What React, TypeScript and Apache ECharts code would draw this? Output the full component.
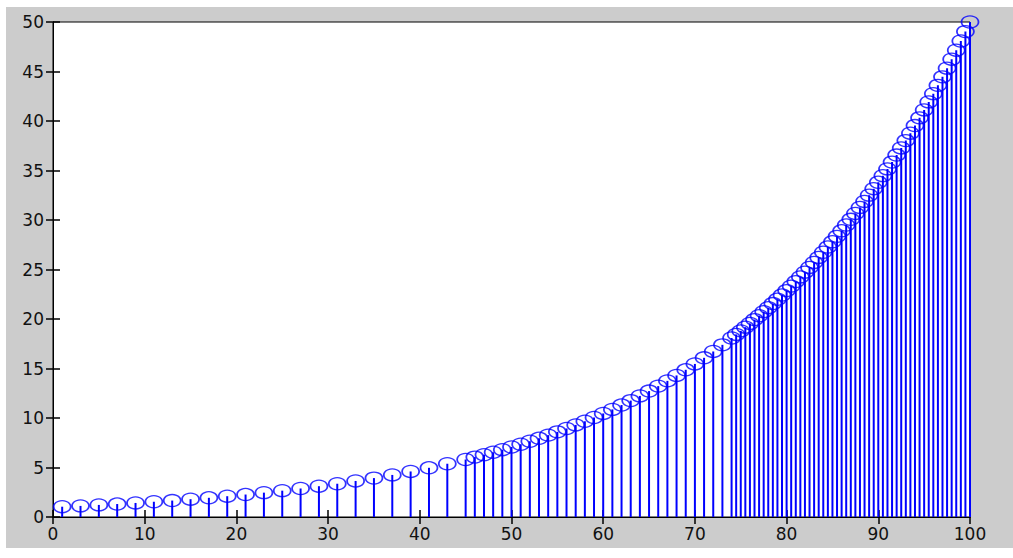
import React, { useEffect, useRef } from "react";
import * as echarts from "echarts";

const xValues: number[] = [
  1, 3, 5, 7, 9, 11, 13, 15, 17, 19, 21, 23, 25, 27, 29, 31, 33, 35, 37, 39, 41, 43,
  45, 46, 47, 48, 49, 50, 51, 52, 53, 54, 55, 56, 57, 58, 59, 60, 61, 62, 63, 64, 65, 66, 67, 68, 69, 70, 71, 72, 73,
  74, 74.5, 75, 75.5, 76, 76.5, 77, 77.5, 78, 78.5, 79, 79.5, 80, 80.5, 81, 81.5, 82, 82.5, 83, 83.5, 84, 84.5,
  85, 85.5, 86, 86.5, 87, 87.5, 88, 88.5, 89, 89.5, 90, 90.5, 91, 91.5, 92, 92.5, 93, 93.5, 94, 94.5,
  95, 95.5, 96, 96.5, 97, 97.5, 98, 98.5, 99, 99.5, 100,
];

const yValues: number[] = [
  1.04, 1.12, 1.22, 1.31, 1.42, 1.54, 1.66, 1.8, 1.94, 2.1, 2.27, 2.46, 2.66, 2.88, 3.11, 3.36, 3.64, 3.93, 4.25, 4.6, 4.97, 5.38,
  5.81, 6.05, 6.29, 6.54, 6.8, 7.07, 7.35, 7.65, 7.95, 8.27, 8.6, 8.94, 9.3, 9.67, 10.05, 10.46, 10.87, 11.31, 11.76, 12.23, 12.72, 13.22, 13.75, 14.3, 14.87, 15.46, 16.08, 16.72, 17.39,
  18.08, 18.44, 18.8, 19.17, 19.55, 19.94, 20.33, 20.74, 21.14, 21.56, 21.99, 22.42, 22.87, 23.32, 23.78, 24.25, 24.73, 25.21, 25.71, 26.22, 26.74, 27.27,
  27.8, 28.35, 28.91, 29.49, 30.07, 30.66, 31.27, 31.88, 32.51, 33.16, 33.81, 34.48, 35.16, 35.85, 36.56, 37.28, 38.02, 38.77, 39.54, 40.32,
  41.12, 41.93, 42.76, 43.6, 44.46, 45.34, 46.24, 47.15, 48.08, 49.03, 50,
];

const xTicks = { min: 0, max: 100, interval: 10 };
const yTicks = { min: 0, max: 50, interval: 5 };

const BLUE = "#0000ff";

export default function App() {
  const ref = useRef<HTMLDivElement>(null);

  useEffect(() => {
    if (!ref.current) return;
    const chart = echarts.init(ref.current, null, { renderer: "svg" });
    const points = xValues.map((x, i) => [x, yValues[i]]);
    const labelStyle = {
      color: "#111",
      fontFamily: "DejaVu Sans",
      fontSize: 17,
    };
    const axisLine = { show: true, lineStyle: { color: "#000", width: 1 } };
    const axisTick = { show: true, inside: true, length: 7, lineStyle: { color: "#000", width: 1.5 } };
    chart.setOption({
      animation: false,
      backgroundColor: "#cccccc",
      grid: {
        left: 47,
        right: 43,
        top: 15,
        bottom: 31,
        show: true,
        backgroundColor: "#ffffff",
        borderColor: "#000",
        borderWidth: 1,
      },
      xAxis: [
        {
          type: "value",
          position: "bottom",
          min: xTicks.min,
          max: xTicks.max,
          interval: xTicks.interval,
          axisLine,
          axisTick,
          splitLine: { show: false },
          axisLabel: { ...labelStyle, margin: 8 },
        },
        {
          type: "value",
          position: "top",
          min: xTicks.min,
          max: xTicks.max,
          interval: xTicks.interval,
          axisLine,
          axisTick,
          splitLine: { show: false },
          axisLabel: { show: false },
        },
      ],
      yAxis: [
        {
          type: "value",
          position: "left",
          min: yTicks.min,
          max: yTicks.max,
          interval: yTicks.interval,
          axisLine,
          axisTick,
          splitLine: { show: false },
          axisLabel: { ...labelStyle, margin: 9 },
        },
        {
          type: "value",
          position: "right",
          min: yTicks.min,
          max: yTicks.max,
          interval: yTicks.interval,
          axisLine,
          axisTick,
          splitLine: { show: false },
          axisLabel: { show: false },
        },
      ],
      series: [
        {
          type: "custom",
          xAxisIndex: 0,
          yAxisIndex: 0,
          data: points,
          clip: false,
          renderItem: (params: any, api: any) => {
            const x = api.value(0);
            const y = api.value(1);
            const p0 = api.coord([x, 0]);
            const p1 = api.coord([x, y]);
            return {
              type: "line",
              shape: { x1: p0[0], y1: p0[1], x2: p1[0], y2: p1[1] },
              style: { stroke: BLUE, lineWidth: 2 },
            };
          },
        },
        {
          type: "scatter",
          xAxisIndex: 0,
          yAxisIndex: 0,
          data: points,
          clip: false,
          symbol: "circle",
          symbolSize: [17, 12],
          itemStyle: { color: "none", borderColor: BLUE, borderWidth: 1.5 },
        },
      ],
    });
    return () => chart.dispose();
  }, []);

  return (
    <div style={{ position: "fixed", left: 0, top: 0, width: 1013, height: 558, background: "#ffffff" }}>
      <div ref={ref} style={{ position: "absolute", left: 6, top: 7, width: 1007, height: 541 }} />
    </div>
  );
}
